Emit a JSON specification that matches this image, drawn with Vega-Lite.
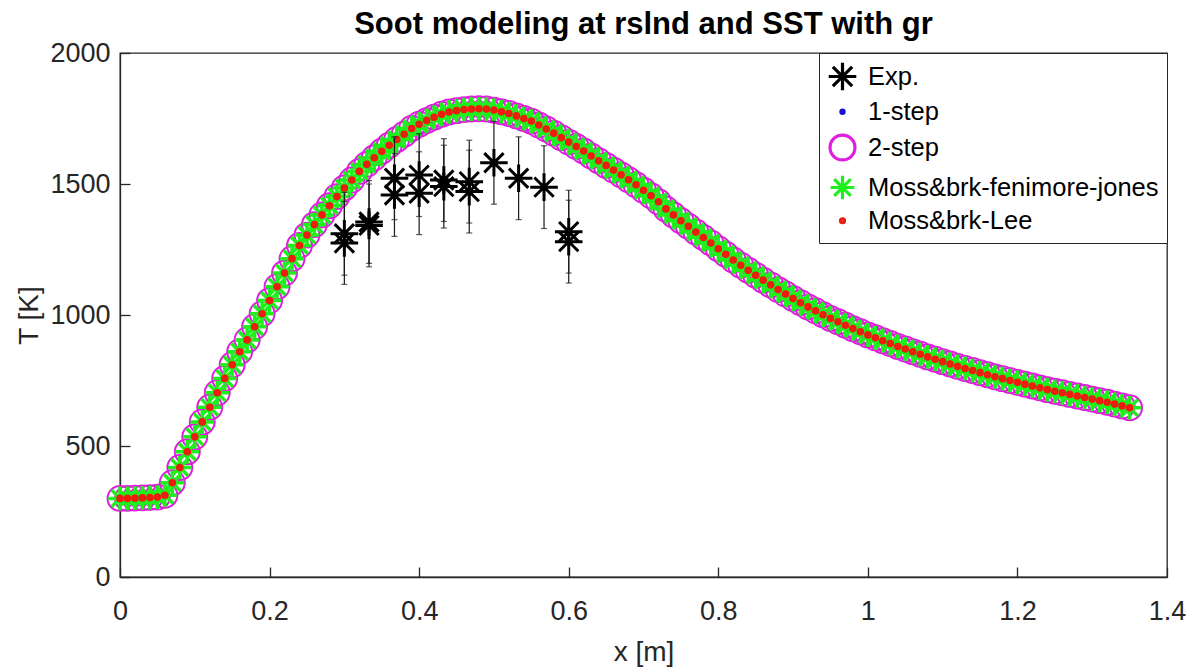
{
"$schema": "https://vega.github.io/schema/vega-lite/v6.json",
"width": 1047, "height": 524,
"autosize": {"type": "none"},
"padding": {"left": 120, "top": 53, "right": 32, "bottom": 93},
"background": "white",
"config": {
  "font": "Liberation Sans",
  "view": {"stroke": "#262626", "strokeWidth": 1.3},
  "axis": {"domainColor": "#262626", "tickColor": "#262626", "labelColor": "#262626", "titleColor": "#262626", "labelFontSize": 27, "titleFontSize": 28, "titleFontWeight": "normal", "grid": false, "labelFont": "Liberation Sans", "titleFont": "Liberation Sans", "tickSize": -10, "domainWidth": 1.3, "tickWidth": 1.3, "labelFlush": false, "labelOverlap": false},
  "legend": {"orient": "top-right", "offset": 0, "padding": 8, "strokeColor": "#262626", "fillColor": "white", "labelFontSize": 25.5, "labelFont": "Liberation Sans", "labelColor": "black", "labelLimit": 500, "labelOffset": 10, "rowPadding": 2, "symbolStrokeWidth": 3.2, "symbolOpacity": 1}
},
"title": {"text": "Soot modeling at rslnd and SST with gr", "fontSize": 31, "fontWeight": "bold", "color": "black", "font": "Liberation Sans", "frame": "group", "offset": -2, "anchor": "middle"},
"datasets": {
  "model": [
{"x":0,"1-step":300,"2-step":300,"Moss&brk-fenimore-jones":300,"Moss&brk-Lee":300},
{"x":0.01,"1-step":300,"2-step":300,"Moss&brk-fenimore-jones":300,"Moss&brk-Lee":300},
{"x":0.02,"1-step":301,"2-step":301,"Moss&brk-fenimore-jones":301,"Moss&brk-Lee":301},
{"x":0.03,"1-step":302,"2-step":302,"Moss&brk-fenimore-jones":302,"Moss&brk-Lee":302},
{"x":0.04,"1-step":303,"2-step":303,"Moss&brk-fenimore-jones":303,"Moss&brk-Lee":303},
{"x":0.05,"1-step":305,"2-step":305,"Moss&brk-fenimore-jones":305,"Moss&brk-Lee":305},
{"x":0.06,"1-step":312,"2-step":312,"Moss&brk-fenimore-jones":312,"Moss&brk-Lee":312},
{"x":0.07,"1-step":360,"2-step":360,"Moss&brk-fenimore-jones":360,"Moss&brk-Lee":360},
{"x":0.08,"1-step":418,"2-step":418,"Moss&brk-fenimore-jones":418,"Moss&brk-Lee":418},
{"x":0.09,"1-step":478,"2-step":478,"Moss&brk-fenimore-jones":478,"Moss&brk-Lee":478},
{"x":0.1,"1-step":535,"2-step":535,"Moss&brk-fenimore-jones":535,"Moss&brk-Lee":535},
{"x":0.11,"1-step":592,"2-step":592,"Moss&brk-fenimore-jones":592,"Moss&brk-Lee":592},
{"x":0.12,"1-step":648,"2-step":648,"Moss&brk-fenimore-jones":648,"Moss&brk-Lee":648},
{"x":0.13,"1-step":703,"2-step":703,"Moss&brk-fenimore-jones":703,"Moss&brk-Lee":703},
{"x":0.14,"1-step":758,"2-step":758,"Moss&brk-fenimore-jones":758,"Moss&brk-Lee":758},
{"x":0.15,"1-step":810,"2-step":810,"Moss&brk-fenimore-jones":810,"Moss&brk-Lee":810},
{"x":0.16,"1-step":860,"2-step":860,"Moss&brk-fenimore-jones":860,"Moss&brk-Lee":860},
{"x":0.17,"1-step":905,"2-step":905,"Moss&brk-fenimore-jones":905,"Moss&brk-Lee":905},
{"x":0.18,"1-step":955,"2-step":955,"Moss&brk-fenimore-jones":955,"Moss&brk-Lee":955},
{"x":0.19,"1-step":1005,"2-step":1005,"Moss&brk-fenimore-jones":1005,"Moss&brk-Lee":1005},
{"x":0.2,"1-step":1055,"2-step":1055,"Moss&brk-fenimore-jones":1055,"Moss&brk-Lee":1055},
{"x":0.21,"1-step":1108,"2-step":1108,"Moss&brk-fenimore-jones":1108,"Moss&brk-Lee":1108},
{"x":0.22,"1-step":1160,"2-step":1160,"Moss&brk-fenimore-jones":1160,"Moss&brk-Lee":1160},
{"x":0.23,"1-step":1215,"2-step":1215,"Moss&brk-fenimore-jones":1215,"Moss&brk-Lee":1215},
{"x":0.24,"1-step":1265,"2-step":1265,"Moss&brk-fenimore-jones":1265,"Moss&brk-Lee":1265},
{"x":0.25,"1-step":1305,"2-step":1305,"Moss&brk-fenimore-jones":1305,"Moss&brk-Lee":1305},
{"x":0.26,"1-step":1345,"2-step":1345,"Moss&brk-fenimore-jones":1345,"Moss&brk-Lee":1345},
{"x":0.27,"1-step":1382,"2-step":1382,"Moss&brk-fenimore-jones":1382,"Moss&brk-Lee":1382},
{"x":0.28,"1-step":1417,"2-step":1417,"Moss&brk-fenimore-jones":1417,"Moss&brk-Lee":1417},
{"x":0.29,"1-step":1452,"2-step":1452,"Moss&brk-fenimore-jones":1452,"Moss&brk-Lee":1452},
{"x":0.3,"1-step":1485,"2-step":1485,"Moss&brk-fenimore-jones":1485,"Moss&brk-Lee":1485},
{"x":0.31,"1-step":1515,"2-step":1515,"Moss&brk-fenimore-jones":1515,"Moss&brk-Lee":1515},
{"x":0.32,"1-step":1548,"2-step":1548,"Moss&brk-fenimore-jones":1548,"Moss&brk-Lee":1548},
{"x":0.33,"1-step":1575,"2-step":1575,"Moss&brk-fenimore-jones":1575,"Moss&brk-Lee":1575},
{"x":0.34,"1-step":1600,"2-step":1600,"Moss&brk-fenimore-jones":1600,"Moss&brk-Lee":1600},
{"x":0.35,"1-step":1625,"2-step":1625,"Moss&brk-fenimore-jones":1625,"Moss&brk-Lee":1625},
{"x":0.36,"1-step":1648,"2-step":1648,"Moss&brk-fenimore-jones":1648,"Moss&brk-Lee":1648},
{"x":0.37,"1-step":1670,"2-step":1670,"Moss&brk-fenimore-jones":1670,"Moss&brk-Lee":1670},
{"x":0.38,"1-step":1690,"2-step":1690,"Moss&brk-fenimore-jones":1690,"Moss&brk-Lee":1690},
{"x":0.39,"1-step":1712,"2-step":1712,"Moss&brk-fenimore-jones":1712,"Moss&brk-Lee":1712},
{"x":0.4,"1-step":1728,"2-step":1728,"Moss&brk-fenimore-jones":1728,"Moss&brk-Lee":1728},
{"x":0.41,"1-step":1742,"2-step":1742,"Moss&brk-fenimore-jones":1742,"Moss&brk-Lee":1742},
{"x":0.42,"1-step":1755,"2-step":1755,"Moss&brk-fenimore-jones":1755,"Moss&brk-Lee":1755},
{"x":0.43,"1-step":1766,"2-step":1766,"Moss&brk-fenimore-jones":1766,"Moss&brk-Lee":1766},
{"x":0.44,"1-step":1775,"2-step":1775,"Moss&brk-fenimore-jones":1775,"Moss&brk-Lee":1775},
{"x":0.45,"1-step":1780,"2-step":1780,"Moss&brk-fenimore-jones":1780,"Moss&brk-Lee":1780},
{"x":0.46,"1-step":1784,"2-step":1784,"Moss&brk-fenimore-jones":1784,"Moss&brk-Lee":1784},
{"x":0.47,"1-step":1786,"2-step":1786,"Moss&brk-fenimore-jones":1786,"Moss&brk-Lee":1786},
{"x":0.48,"1-step":1787,"2-step":1787,"Moss&brk-fenimore-jones":1787,"Moss&brk-Lee":1787},
{"x":0.49,"1-step":1786,"2-step":1786,"Moss&brk-fenimore-jones":1786,"Moss&brk-Lee":1786},
{"x":0.5,"1-step":1782,"2-step":1782,"Moss&brk-fenimore-jones":1782,"Moss&brk-Lee":1782},
{"x":0.51,"1-step":1776,"2-step":1776,"Moss&brk-fenimore-jones":1776,"Moss&brk-Lee":1776},
{"x":0.52,"1-step":1769,"2-step":1769,"Moss&brk-fenimore-jones":1769,"Moss&brk-Lee":1769},
{"x":0.53,"1-step":1760,"2-step":1760,"Moss&brk-fenimore-jones":1760,"Moss&brk-Lee":1760},
{"x":0.54,"1-step":1750,"2-step":1750,"Moss&brk-fenimore-jones":1750,"Moss&brk-Lee":1750},
{"x":0.55,"1-step":1740,"2-step":1740,"Moss&brk-fenimore-jones":1740,"Moss&brk-Lee":1740},
{"x":0.56,"1-step":1725,"2-step":1725,"Moss&brk-fenimore-jones":1725,"Moss&brk-Lee":1725},
{"x":0.57,"1-step":1710,"2-step":1710,"Moss&brk-fenimore-jones":1710,"Moss&brk-Lee":1710},
{"x":0.58,"1-step":1694,"2-step":1694,"Moss&brk-fenimore-jones":1694,"Moss&brk-Lee":1694},
{"x":0.59,"1-step":1677,"2-step":1677,"Moss&brk-fenimore-jones":1677,"Moss&brk-Lee":1677},
{"x":0.6,"1-step":1660,"2-step":1660,"Moss&brk-fenimore-jones":1660,"Moss&brk-Lee":1660},
{"x":0.61,"1-step":1643,"2-step":1643,"Moss&brk-fenimore-jones":1643,"Moss&brk-Lee":1643},
{"x":0.62,"1-step":1626,"2-step":1626,"Moss&brk-fenimore-jones":1626,"Moss&brk-Lee":1626},
{"x":0.63,"1-step":1607,"2-step":1607,"Moss&brk-fenimore-jones":1607,"Moss&brk-Lee":1607},
{"x":0.64,"1-step":1589,"2-step":1589,"Moss&brk-fenimore-jones":1589,"Moss&brk-Lee":1589},
{"x":0.65,"1-step":1571,"2-step":1571,"Moss&brk-fenimore-jones":1571,"Moss&brk-Lee":1571},
{"x":0.66,"1-step":1553,"2-step":1553,"Moss&brk-fenimore-jones":1553,"Moss&brk-Lee":1553},
{"x":0.67,"1-step":1535,"2-step":1535,"Moss&brk-fenimore-jones":1535,"Moss&brk-Lee":1535},
{"x":0.68,"1-step":1516,"2-step":1516,"Moss&brk-fenimore-jones":1516,"Moss&brk-Lee":1516},
{"x":0.69,"1-step":1497,"2-step":1497,"Moss&brk-fenimore-jones":1497,"Moss&brk-Lee":1497},
{"x":0.7,"1-step":1476,"2-step":1476,"Moss&brk-fenimore-jones":1476,"Moss&brk-Lee":1476},
{"x":0.71,"1-step":1455,"2-step":1455,"Moss&brk-fenimore-jones":1455,"Moss&brk-Lee":1455},
{"x":0.72,"1-step":1432,"2-step":1432,"Moss&brk-fenimore-jones":1432,"Moss&brk-Lee":1432},
{"x":0.73,"1-step":1405,"2-step":1405,"Moss&brk-fenimore-jones":1405,"Moss&brk-Lee":1405},
{"x":0.74,"1-step":1382,"2-step":1382,"Moss&brk-fenimore-jones":1382,"Moss&brk-Lee":1382},
{"x":0.75,"1-step":1360,"2-step":1360,"Moss&brk-fenimore-jones":1360,"Moss&brk-Lee":1360},
{"x":0.76,"1-step":1339,"2-step":1339,"Moss&brk-fenimore-jones":1339,"Moss&brk-Lee":1339},
{"x":0.77,"1-step":1317,"2-step":1317,"Moss&brk-fenimore-jones":1317,"Moss&brk-Lee":1317},
{"x":0.78,"1-step":1296,"2-step":1296,"Moss&brk-fenimore-jones":1296,"Moss&brk-Lee":1296},
{"x":0.79,"1-step":1275,"2-step":1275,"Moss&brk-fenimore-jones":1275,"Moss&brk-Lee":1275},
{"x":0.8,"1-step":1253,"2-step":1253,"Moss&brk-fenimore-jones":1253,"Moss&brk-Lee":1253},
{"x":0.81,"1-step":1232,"2-step":1232,"Moss&brk-fenimore-jones":1232,"Moss&brk-Lee":1232},
{"x":0.82,"1-step":1210,"2-step":1210,"Moss&brk-fenimore-jones":1210,"Moss&brk-Lee":1210},
{"x":0.83,"1-step":1190,"2-step":1190,"Moss&brk-fenimore-jones":1190,"Moss&brk-Lee":1190},
{"x":0.84,"1-step":1171,"2-step":1171,"Moss&brk-fenimore-jones":1171,"Moss&brk-Lee":1171},
{"x":0.85,"1-step":1152,"2-step":1152,"Moss&brk-fenimore-jones":1152,"Moss&brk-Lee":1152},
{"x":0.86,"1-step":1133,"2-step":1133,"Moss&brk-fenimore-jones":1133,"Moss&brk-Lee":1133},
{"x":0.87,"1-step":1115,"2-step":1115,"Moss&brk-fenimore-jones":1115,"Moss&brk-Lee":1115},
{"x":0.88,"1-step":1097,"2-step":1097,"Moss&brk-fenimore-jones":1097,"Moss&brk-Lee":1097},
{"x":0.89,"1-step":1080,"2-step":1080,"Moss&brk-fenimore-jones":1080,"Moss&brk-Lee":1080},
{"x":0.9,"1-step":1063,"2-step":1063,"Moss&brk-fenimore-jones":1063,"Moss&brk-Lee":1063},
{"x":0.91,"1-step":1047,"2-step":1047,"Moss&brk-fenimore-jones":1047,"Moss&brk-Lee":1047},
{"x":0.92,"1-step":1031,"2-step":1031,"Moss&brk-fenimore-jones":1031,"Moss&brk-Lee":1031},
{"x":0.93,"1-step":1016,"2-step":1016,"Moss&brk-fenimore-jones":1016,"Moss&brk-Lee":1016},
{"x":0.94,"1-step":1001,"2-step":1001,"Moss&brk-fenimore-jones":1001,"Moss&brk-Lee":1001},
{"x":0.95,"1-step":987,"2-step":987,"Moss&brk-fenimore-jones":987,"Moss&brk-Lee":987},
{"x":0.96,"1-step":974,"2-step":974,"Moss&brk-fenimore-jones":974,"Moss&brk-Lee":974},
{"x":0.97,"1-step":961,"2-step":961,"Moss&brk-fenimore-jones":961,"Moss&brk-Lee":961},
{"x":0.98,"1-step":948,"2-step":948,"Moss&brk-fenimore-jones":948,"Moss&brk-Lee":948},
{"x":0.99,"1-step":936,"2-step":936,"Moss&brk-fenimore-jones":936,"Moss&brk-Lee":936},
{"x":1,"1-step":924,"2-step":924,"Moss&brk-fenimore-jones":924,"Moss&brk-Lee":924},
{"x":1.01,"1-step":913,"2-step":913,"Moss&brk-fenimore-jones":913,"Moss&brk-Lee":913},
{"x":1.02,"1-step":902,"2-step":902,"Moss&brk-fenimore-jones":902,"Moss&brk-Lee":902},
{"x":1.03,"1-step":891,"2-step":891,"Moss&brk-fenimore-jones":891,"Moss&brk-Lee":891},
{"x":1.04,"1-step":880,"2-step":880,"Moss&brk-fenimore-jones":880,"Moss&brk-Lee":880},
{"x":1.05,"1-step":870,"2-step":870,"Moss&brk-fenimore-jones":870,"Moss&brk-Lee":870},
{"x":1.06,"1-step":860,"2-step":860,"Moss&brk-fenimore-jones":860,"Moss&brk-Lee":860},
{"x":1.07,"1-step":850,"2-step":850,"Moss&brk-fenimore-jones":850,"Moss&brk-Lee":850},
{"x":1.08,"1-step":840,"2-step":840,"Moss&brk-fenimore-jones":840,"Moss&brk-Lee":840},
{"x":1.09,"1-step":831,"2-step":831,"Moss&brk-fenimore-jones":831,"Moss&brk-Lee":831},
{"x":1.1,"1-step":822,"2-step":822,"Moss&brk-fenimore-jones":822,"Moss&brk-Lee":822},
{"x":1.11,"1-step":813,"2-step":813,"Moss&brk-fenimore-jones":813,"Moss&brk-Lee":813},
{"x":1.12,"1-step":804,"2-step":804,"Moss&brk-fenimore-jones":804,"Moss&brk-Lee":804},
{"x":1.13,"1-step":796,"2-step":796,"Moss&brk-fenimore-jones":796,"Moss&brk-Lee":796},
{"x":1.14,"1-step":788,"2-step":788,"Moss&brk-fenimore-jones":788,"Moss&brk-Lee":788},
{"x":1.15,"1-step":780,"2-step":780,"Moss&brk-fenimore-jones":780,"Moss&brk-Lee":780},
{"x":1.16,"1-step":772,"2-step":772,"Moss&brk-fenimore-jones":772,"Moss&brk-Lee":772},
{"x":1.17,"1-step":764,"2-step":764,"Moss&brk-fenimore-jones":764,"Moss&brk-Lee":764},
{"x":1.18,"1-step":757,"2-step":757,"Moss&brk-fenimore-jones":757,"Moss&brk-Lee":757},
{"x":1.19,"1-step":750,"2-step":750,"Moss&brk-fenimore-jones":750,"Moss&brk-Lee":750},
{"x":1.2,"1-step":743,"2-step":743,"Moss&brk-fenimore-jones":743,"Moss&brk-Lee":743},
{"x":1.21,"1-step":736,"2-step":736,"Moss&brk-fenimore-jones":736,"Moss&brk-Lee":736},
{"x":1.22,"1-step":729,"2-step":729,"Moss&brk-fenimore-jones":729,"Moss&brk-Lee":729},
{"x":1.23,"1-step":722,"2-step":722,"Moss&brk-fenimore-jones":722,"Moss&brk-Lee":722},
{"x":1.24,"1-step":715,"2-step":715,"Moss&brk-fenimore-jones":715,"Moss&brk-Lee":715},
{"x":1.25,"1-step":709,"2-step":709,"Moss&brk-fenimore-jones":709,"Moss&brk-Lee":709},
{"x":1.26,"1-step":703,"2-step":703,"Moss&brk-fenimore-jones":703,"Moss&brk-Lee":703},
{"x":1.27,"1-step":697,"2-step":697,"Moss&brk-fenimore-jones":697,"Moss&brk-Lee":697},
{"x":1.28,"1-step":691,"2-step":691,"Moss&brk-fenimore-jones":691,"Moss&brk-Lee":691},
{"x":1.29,"1-step":685,"2-step":685,"Moss&brk-fenimore-jones":685,"Moss&brk-Lee":685},
{"x":1.3,"1-step":679,"2-step":679,"Moss&brk-fenimore-jones":679,"Moss&brk-Lee":679},
{"x":1.31,"1-step":673,"2-step":673,"Moss&brk-fenimore-jones":673,"Moss&brk-Lee":673},
{"x":1.32,"1-step":667,"2-step":667,"Moss&brk-fenimore-jones":667,"Moss&brk-Lee":667},
{"x":1.33,"1-step":660,"2-step":660,"Moss&brk-fenimore-jones":660,"Moss&brk-Lee":660},
{"x":1.34,"1-step":653,"2-step":653,"Moss&brk-fenimore-jones":653,"Moss&brk-Lee":653},
{"x":1.35,"1-step":646,"2-step":646,"Moss&brk-fenimore-jones":646,"Moss&brk-Lee":646}
  ],
  "exp": [
{"x":0.3,"T":1310,"lo":1152,"hi":1468,"series":"Exp."},
{"x":0.3,"T":1275,"lo":1117,"hi":1433,"series":"Exp."},
{"x":0.333,"T":1355,"lo":1197,"hi":1513,"series":"Exp."},
{"x":0.333,"T":1342,"lo":1184,"hi":1500,"series":"Exp."},
{"x":0.367,"T":1522,"lo":1364,"hi":1680,"series":"Exp."},
{"x":0.367,"T":1458,"lo":1300,"hi":1616,"series":"Exp."},
{"x":0.4,"T":1534,"lo":1376,"hi":1692,"series":"Exp."},
{"x":0.4,"T":1465,"lo":1307,"hi":1623,"series":"Exp."},
{"x":0.433,"T":1515,"lo":1357,"hi":1673,"series":"Exp."},
{"x":0.433,"T":1490,"lo":1332,"hi":1648,"series":"Exp."},
{"x":0.467,"T":1509,"lo":1351,"hi":1667,"series":"Exp."},
{"x":0.467,"T":1471,"lo":1313,"hi":1629,"series":"Exp."},
{"x":0.5,"T":1581,"lo":1423,"hi":1739,"series":"Exp."},
{"x":0.533,"T":1522,"lo":1364,"hi":1680,"series":"Exp."},
{"x":0.567,"T":1488,"lo":1330,"hi":1646,"series":"Exp."},
{"x":0.6,"T":1318,"lo":1160,"hi":1476,"series":"Exp."},
{"x":0.6,"T":1280,"lo":1122,"hi":1438,"series":"Exp."}
  ]
},
"encoding": {
  "x": {"field": "x", "type": "quantitative", "scale": {"domain": [0, 1.4], "nice": false, "zero": false}, "axis": {"values": [0, 0.2, 0.4, 0.6, 0.8, 1, 1.2, 1.4], "format": "~g", "title": "x [m]", "labelPadding": 31, "titlePadding": 14}},
  "y": {"field": "T", "type": "quantitative", "scale": {"domain": [0, 2000], "nice": false, "zero": false}, "axis": {"values": [0, 500, 1000, 1500, 2000], "format": "d", "title": "T [K]", "labelPadding": 20, "titlePadding": 6}},
  "color": {"field": "series", "type": "nominal", "scale": {"domain": ["Exp.", "1-step", "2-step", "Moss&brk-fenimore-jones", "Moss&brk-Lee"], "range": ["#000000", "#1414d2", "#e01ee0", "#1ef01e", "#ee1c0e"]}, "legend": {"title": null}},
  "shape": {"field": "series", "type": "nominal", "scale": {"domain": ["Exp.", "1-step", "2-step", "Moss&brk-fenimore-jones", "Moss&brk-Lee"], "range": ["M-1,0L1,0M0,-1L0,1M-0.7,-0.7L0.7,0.7M-0.7,0.7L0.7,-0.7", "circle", "circle", "M-1,0L1,0M0,-1L0,1M-0.7,-0.7L0.7,0.7M-0.7,0.7L0.7,-0.7", "circle"]}, "legend": {"title": null}},
  "size": {"field": "series", "type": "nominal", "scale": {"type": "ordinal", "domain": ["Exp.", "1-step", "2-step", "Moss&brk-fenimore-jones", "Moss&brk-Lee"], "range": [760, 10, 620, 560, 16]}, "legend": {"title": null}}
},
"layer": [
  {
    "data": {"name": "model"},
    "transform": [{"fold": ["1-step"], "as": ["series", "T"]}],
    "mark": {"type": "point", "filled": false, "strokeWidth": 3, "opacity": 1}
  },
  {
    "data": {"name": "model"},
    "transform": [{"fold": ["2-step"], "as": ["series", "T"]}],
    "mark": {"type": "point", "filled": false, "strokeWidth": 2, "opacity": 1}
  },
  {
    "data": {"name": "model"},
    "transform": [{"fold": ["Moss&brk-fenimore-jones"], "as": ["series", "T"]}],
    "mark": {"type": "point", "filled": false, "strokeWidth": 3.5, "opacity": 1}
  },
  {
    "data": {"name": "model"},
    "transform": [{"fold": ["Moss&brk-Lee"], "as": ["series", "T"]}],
    "mark": {"type": "point", "filled": false, "strokeWidth": 3.6, "opacity": 1}
  },
  {
    "data": {"name": "exp"},
    "mark": {"type": "errorbar", "ticks": true, "size": 6, "thickness": 1.2, "color": "#1a1a1a"},
    "encoding": {
      "y": {"field": "lo", "type": "quantitative"},
      "y2": {"field": "hi"},
      "color": null, "shape": null, "size": null
    }
  },
  {
    "data": {"name": "exp"},
    "mark": {"type": "point", "filled": false, "strokeWidth": 3, "opacity": 1}
  }
]
}
